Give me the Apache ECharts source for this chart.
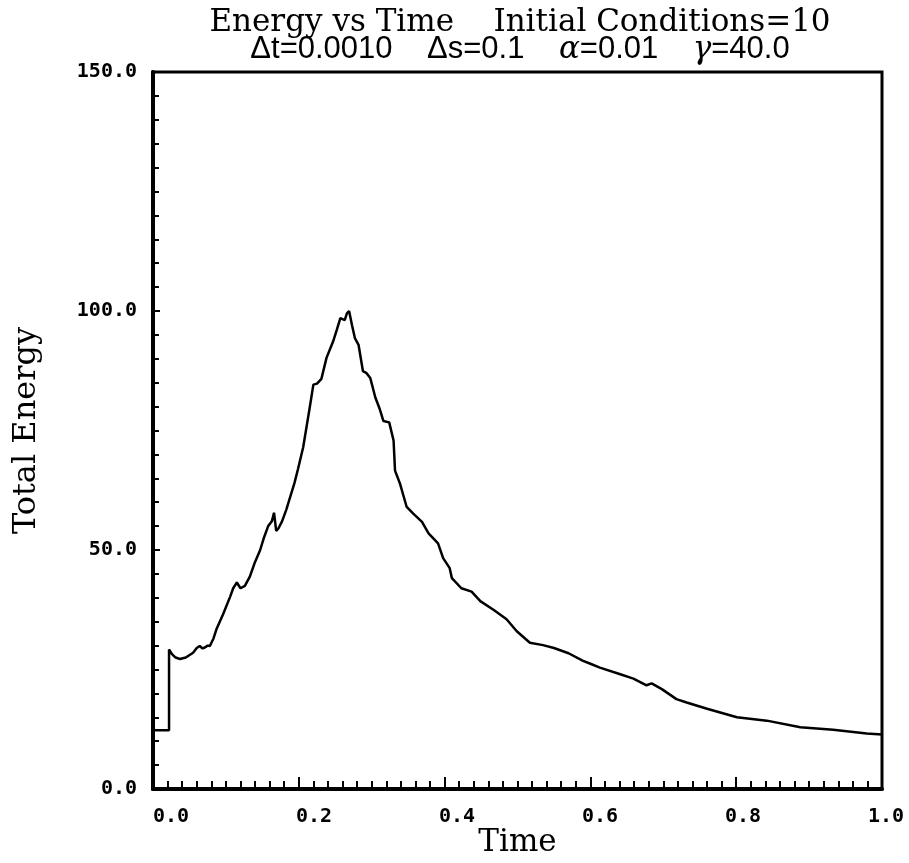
<!DOCTYPE html>
<html>
<head>
<meta charset="utf-8">
<script src="https://cdn.jsdelivr.net/npm/echarts@6/dist/echarts.min.js"></script>
<style>
  html, body { margin: 0; padding: 0; background: #fff; }
  #chart { width: 909px; height: 863px; }
</style>
</head>
<body>
<div id="chart"></div>
<script>
// Time samples and total energy of the run
const time = [
  0, 0.022, 0.022, 0.026, 0.031, 0.037, 0.045, 0.055, 0.060, 0.064, 0.068, 0.071, 0.075, 0.078,
  0.083, 0.087, 0.096, 0.106, 0.110, 0.115, 0.120, 0.126, 0.133, 0.140, 0.147, 0.152, 0.158,
  0.163, 0.166, 0.169, 0.172, 0.177, 0.183, 0.188, 0.194, 0.199, 0.206, 0.215, 0.220, 0.225,
  0.231, 0.238, 0.247, 0.252, 0.257, 0.263, 0.266, 0.269, 0.273, 0.277, 0.282, 0.288, 0.293,
  0.298, 0.305, 0.311, 0.316, 0.324, 0.330, 0.332, 0.339, 0.348, 0.357, 0.369, 0.378, 0.391,
  0.398, 0.407, 0.410, 0.423, 0.437, 0.449, 0.467, 0.485, 0.499, 0.517, 0.535, 0.550, 0.570,
  0.590, 0.600, 0.613, 0.641, 0.659, 0.677, 0.684, 0.698, 0.718, 0.732, 0.760, 0.801, 0.842,
  0.888, 0.933, 0.979, 1.0
];
const energy = [
  12.3, 12.3, 29.2, 28.2, 27.5, 27.2, 27.5, 28.5, 29.5, 29.9, 29.4, 29.6, 30.0, 29.9,
  31.5, 33.4, 36.5, 40.3, 42.0, 43.2, 42.0, 42.5, 44.5, 47.5, 50.0, 52.5, 55.0,
  56.0, 57.8, 54.0, 54.5, 56.0, 58.5, 61.0, 64.0, 67.0, 71.5, 79.8, 84.6, 84.8,
  85.8, 90.2, 93.6, 96.0, 98.5, 98.1, 99.5, 100.0, 97.0, 94.3, 92.9, 87.4, 87.0,
  86.0, 81.9, 79.5, 77.0, 76.7, 72.9, 66.6, 63.8, 59.0, 57.6, 55.9, 53.5, 51.4,
  48.3, 46.2, 44.1, 42.0, 41.3, 39.3, 37.5, 35.5, 33.0, 30.6, 30.1, 29.5, 28.4,
  26.8, 26.2, 25.4, 24.0, 23.1, 21.7, 22.1, 20.9, 18.8, 18.1, 16.8, 15.0, 14.3,
  12.9, 12.4, 11.6, 11.4
];
// Tick labels
const timeLabels = [0, 0.2, 0.4, 0.6, 0.8, 1.0];
const energyLabels = [0, 50, 100, 150];

const chart = echarts.init(document.getElementById('chart'), null, { renderer: 'canvas' });

const labelFont = {
  color: '#000',
  fontFamily: 'DejaVu Sans Mono',
  fontWeight: 'bold',
  fontSize: 20
};
const serif = { fontFamily: 'DejaVu Serif', fontSize: 31, fontWeight: 'normal', color: '#000' };

chart.setOption({
  animation: false,
  backgroundColor: '#fff',
  title: {
    left: 515,
    textAlign: 'center',
    top: 4,
    text: '{a|Energy vs Time    Initial Conditions=10}\n' +
          '{b|\u0394t=0.0010    \u0394s=0.1    }{g|\u03b1}{b|=0.01    }{g|\u03b3}{b|=40.0}',
    textStyle: {
      fontWeight: 'normal',
      rich: {
        a: Object.assign({ lineHeight: 27 }, serif),
        b: { fontFamily: 'Liberation Sans', fontSize: 31, fontWeight: 'normal', color: '#000', lineHeight: 27 },
        g: { fontFamily: 'DejaVu Serif', fontStyle: 'italic', fontSize: 31, fontWeight: 'normal', color: '#000', lineHeight: 27 }
      }
    }
  },
  grid: [
    {
      left: 153, right: 27, top: 72, bottom: 69,
      show: true,
      borderColor: '#000',
      borderWidth: 3,
      backgroundColor: 'transparent'
    },
    // holds the time-axis label track
    { left: 171, right: 23, top: 72, bottom: 69, show: false }
  ],
  xAxis: [
    {
      type: 'value',
      gridIndex: 0,
      min: 0, max: 1.0, interval: 0.2,
      name: 'Time',
      nameLocation: 'middle',
      nameGap: 38,
      nameTextStyle: serif,
      axisLine: { show: true, onZero: false, lineStyle: { color: '#000', width: 4 } },
      axisTick: { show: true, inside: true, length: 12, lineStyle: { color: '#000', width: 2 } },
      minorTick: { show: true, splitNumber: 10, length: 8, lineStyle: { color: '#000', width: 2 } },
      axisLabel: { show: false },
      splitLine: { show: false }
    },
    {
      type: 'value',
      gridIndex: 1,
      position: 'bottom',
      min: 0, max: 1.0,
      axisLine: { show: false },
      axisTick: { show: false },
      splitLine: { show: false },
      axisLabel: Object.assign({
        show: true,
        margin: 13,
        customValues: timeLabels,
        formatter: v => v.toFixed(1)
      }, labelFont)
    }
  ],
  yAxis: [
    {
      type: 'value',
      gridIndex: 0,
      min: 0, max: 150, interval: 50,
      name: 'Total Energy',
      nameLocation: 'middle',
      nameRotate: 90,
      nameGap: 110,
      nameTextStyle: Object.assign({}, serif, { fontSize: 32 }),
      axisLine: { show: true, onZero: false, lineStyle: { color: '#000', width: 4 } },
      axisTick: { show: true, inside: true, length: 7, lineStyle: { color: '#000', width: 2 } },
      minorTick: { show: true, splitNumber: 10, length: 6, lineStyle: { color: '#000', width: 2 } },
      axisLabel: Object.assign({
        margin: 16,
        customValues: energyLabels,
        formatter: v => v.toFixed(1)
      }, labelFont),
      splitLine: { show: false }
    },
    {
      type: 'value',
      gridIndex: 1,
      min: 0, max: 150,
      show: false
    }
  ],
  series: [{
    type: 'line',
    xAxisIndex: 0,
    yAxisIndex: 0,
    data: time.map((t, i) => [t, energy[i]]),
    showSymbol: false,
    lineStyle: { color: '#000', width: 2.5 },
    z: 3
  }]
});
</script>
</body>
</html>
